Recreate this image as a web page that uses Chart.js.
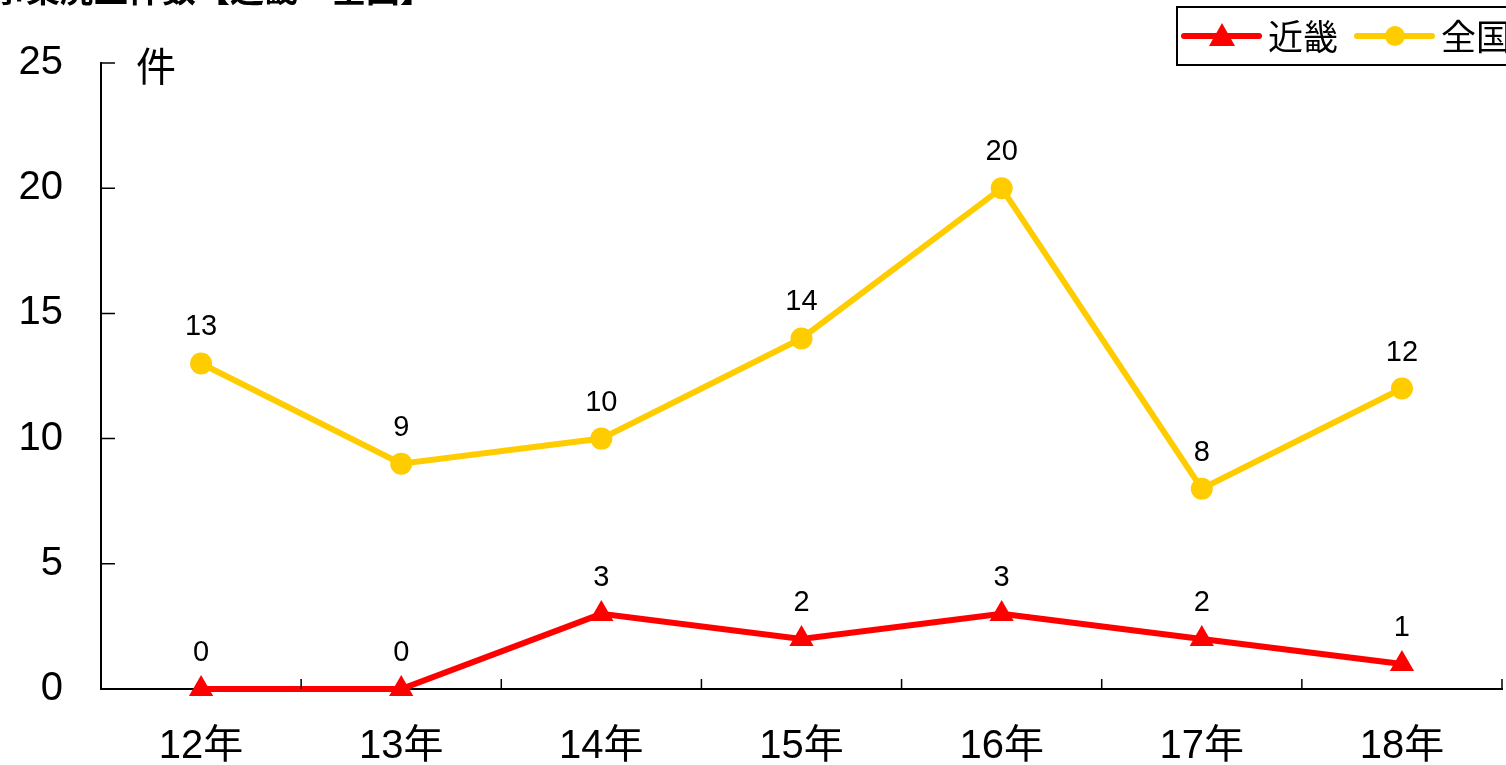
<!DOCTYPE html>
<html>
<head>
<meta charset="utf-8">
<script src="https://cdn.jsdelivr.net/npm/chart.js@4/dist/chart.umd.min.js"></script>
<style>
    html, body { margin: 0; padding: 0; background: #fff; overflow: hidden; }
    #wrap { position: relative; width: 1506px; height: 765px; overflow: hidden; }
    #title {
        position: absolute; left: -8px; top: -37px;
        font: bold 34px "Noto Sans CJK JP", sans-serif; color: #000;
        white-space: nowrap;
    }
</style>
</head>
<body>
<div id="wrap">
    <canvas id="myChart" width="1506" height="765"></canvas>
    <div id="title">事業廃止件数【近畿・全国】</div>
</div>
<script>
const years = ['12年', '13年', '14年', '15年', '16年', '17年', '18年'];
const kinki = [0, 0, 3, 2, 3, 2, 1];
const zenkoku = [13, 9, 10, 14, 20, 8, 12];
const yTicks = [0, 5, 10, 15, 20, 25];

const fontLatin = '"Liberation Sans", Arial, "Noto Sans CJK JP", sans-serif';
const fontJp = '"Noto Sans CJK JP", sans-serif';

// inward tick marks, value labels, unit label and the legend box
const decorations = {
    id: 'decorations',
    afterDraw(chart) {
        const ctx = chart.ctx;
        const xs = chart.scales.x;
        const ys = chart.scales.y;
        ctx.save();
        ctx.strokeStyle = '#000';
        ctx.lineWidth = 1.5;
        ctx.beginPath();
        yTicks.forEach(v => {
            const y = ys.getPixelForValue(v);
            ctx.moveTo(xs.left, y);
            ctx.lineTo(xs.left + 14, y);
        });
        for (let i = 1; i <= years.length; i++) {
            const x = xs.getPixelForValue(i - 0.5);
            ctx.moveTo(x, ys.bottom);
            ctx.lineTo(x, ys.bottom - 10);
        }
        ctx.stroke();

        // value labels
        ctx.fillStyle = '#000';
        ctx.font = '29px ' + fontLatin;
        ctx.textAlign = 'center';
        ctx.textBaseline = 'middle';
        chart.data.datasets.forEach((ds, di) => {
            chart.getDatasetMeta(di).data.forEach((pt, i) => {
                ctx.fillText(String(ds.data[i]), pt.x, pt.y - 36);
            });
        });

        // unit
        ctx.font = '40px ' + fontJp;
        ctx.textAlign = 'left';
        ctx.fillText('件', xs.left + 35, ys.top + 3);

        // legend
        ctx.lineWidth = 2;
        ctx.strokeRect(1177, 7, 360, 58);
        let x = 1184;
        const ly = 36;
        chart.data.datasets.forEach(ds => {
            ctx.strokeStyle = ds.borderColor;
            ctx.fillStyle = ds.borderColor;
            ctx.lineWidth = 6;
            ctx.lineCap = 'round';
            ctx.beginPath();
            ctx.moveTo(x, ly);
            ctx.lineTo(x + 75, ly);
            ctx.stroke();
            const cx = x + 38;
            if (ds.pointStyle === 'triangle') {
                ctx.beginPath();
                ctx.moveTo(cx, ly - 13);
                ctx.lineTo(cx + 13, ly + 10);
                ctx.lineTo(cx - 13, ly + 10);
                ctx.closePath();
                ctx.fill();
            } else {
                ctx.beginPath();
                ctx.arc(cx, ly, 10, 0, Math.PI * 2);
                ctx.fill();
            }
            ctx.fillStyle = '#000';
            ctx.font = '35px ' + fontJp;
            ctx.fillText(ds.label, x + 84, ly + 1);
            x += 173;
        });
        ctx.restore();
    }
};

const ctx = document.getElementById('myChart').getContext('2d');
const myChart = new Chart(ctx, {
    type: 'line',
    data: {
        labels: years,
        datasets: [{
            label: '近畿',
            data: kinki,
            borderColor: '#FF0000',
            backgroundColor: '#FF0000',
            borderWidth: 6,
            pointStyle: 'triangle',
            pointRadius: 14,
            pointBorderWidth: 0,
            clip: false,
            tension: 0
        }, {
            label: '全国',
            data: zenkoku,
            borderColor: '#FFCC00',
            backgroundColor: '#FFCC00',
            borderWidth: 6,
            pointStyle: 'circle',
            pointRadius: 11,
            pointBorderWidth: 0,
            clip: false,
            tension: 0
        }]
    },
    options: {
        responsive: false,
        animation: false,
        layout: { autoPadding: false, padding: { top: 63, right: 4, left: 0, bottom: 0 } },
        plugins: {
            legend: { display: false },
            tooltip: { enabled: false }
        },
        scales: {
            x: {
                offset: true,
                grid: { display: true, drawOnChartArea: false, drawTicks: false, offset: true },
                border: { color: '#000', width: 2 },
                ticks: {
                    color: '#000',
                    padding: 34,
                    font: { size: 40, family: fontLatin }
                },
                afterFit(scale) {
                    scale.height = 76;
                    scale.paddingLeft = 0;
                    scale.paddingRight = 0;
                }
            },
            y: {
                min: 0,
                max: 25,
                afterBuildTicks(scale) { scale.ticks = yTicks.map(v => ({ value: v })); },
                grid: { display: true, drawOnChartArea: false, drawTicks: false },
                border: { color: '#000', width: 2 },
                ticks: {
                    color: '#000',
                    padding: 38,
                    font: { size: 40, family: fontLatin }
                },
                afterFit(scale) { scale.width = 101; }
            }
        }
    },
    plugins: [decorations]
});
</script>
</body>
</html>
